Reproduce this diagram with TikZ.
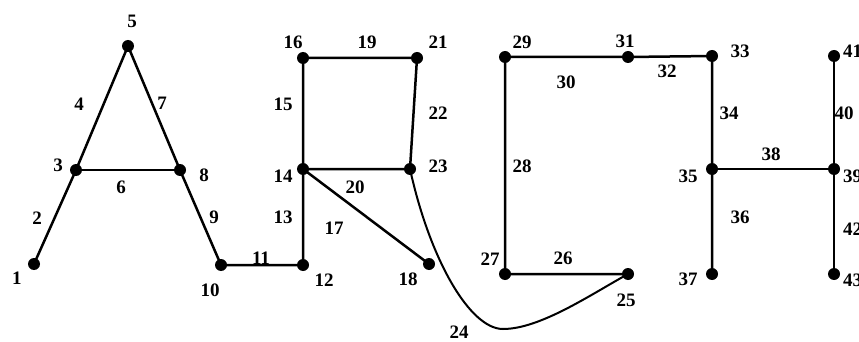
\documentclass[tikz,border=0pt]{standalone}
\usepackage{fontspec}
\setmainfont{Liberation Serif}
\begin{document}
\begin{tikzpicture}[x=1pt,y=-1pt,
  dot/.style={circle,fill=black,inner sep=0pt,minimum size=12pt},
  lbl/.style={font=\fontsize{19}{19}\selectfont\bfseries,inner sep=0pt},
  edge/.style={line width=2.5pt}]
\useasboundingbox (0,0) rectangle (859,342);
% vertices
\foreach \n/\x/\y in {1/34/264, 3/76/170, 5/128/46, 8/180/170, 10/221/265,
  12/303/265, 14/303/169, 16/303/58, 21/417/58, 23/410/169, 18/429/264,
  29/505/57, 31/628/57, 33/712/56, 35/712/169, 37/712/274, 27/505/274,
  25/628/274, 41/834/56, 39/834/169, 43/834/274}
  \coordinate (n\n) at (\x,\y);
% edges
\draw[edge] (n1) -- (n3) -- (n5) -- (n8) -- (n10) -- (n12) -- (n14) -- (n16) -- (n21) -- (n23) -- (n14) -- (n18);
\draw[edge] (n3) -- (n8);
\draw[edge] (n25) -- (n27) -- (n29) -- (n31) -- (n33) -- (n35) -- (n37);
\draw[edge] (n35) -- (n39);
\draw[edge] (n41) -- (n43);
\draw[line width=2pt] (n23) .. controls (430,260) and (470,329) .. (503,329)
  .. controls (540,329) and (590,295) .. (n25);
% dots
\foreach \n in {1,3,5,8,10,12,14,16,21,23,18,29,31,33,35,37,27,25,41,39,43}
  \node[dot] (d\n) at (n\n) {};
% labels
\foreach \t/\x/\y in {1/17/278, 2/37/218, 3/58/165, 4/79/104, 5/132/21, 6/121/187,
  7/162/103, 8/204/175, 9/214/217, 10/210/290, 11/261/258, 12/324/280,
  13/283/217, 14/283/176, 15/283/104, 16/293/42, 17/334/228, 18/408/279,
  19/367/42, 20/355/187, 21/438/42, 22/438/113, 23/438/166, 24/459/332,
  25/626/300, 26/563/258, 27/490/259, 28/522/166, 29/522/42, 30/566/82,
  31/625/41, 32/667/71, 33/740/51, 34/729/113, 35/688/176, 36/740/217,
  37/688/279, 38/771/154, 40/844/113}
  \node[lbl] (l\t) at (\x,\y) {\t};
\foreach \t/\y in {41/51, 39/176, 42/229, 43/280}
  \node[lbl,anchor=west] (l\t) at (843,\y) {\t};
\end{tikzpicture}
\end{document}
